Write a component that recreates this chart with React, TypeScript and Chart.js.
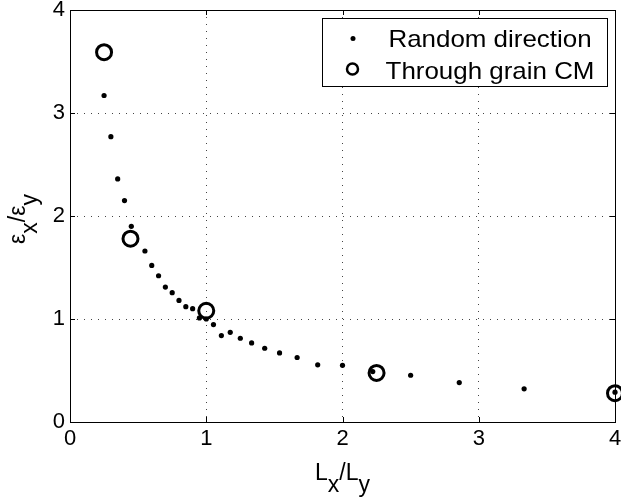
import { useEffect, useRef } from "react";
import { Chart, registerables } from "chart.js";

Chart.register(...registerables);

// ---- data ----
const randomX = [0.25, 0.3, 0.35, 0.4, 0.45, 0.55, 0.6, 0.65, 0.7, 0.75, 0.8, 0.85, 0.9, 0.95, 1.0, 1.053, 1.111, 1.176, 1.25, 1.333, 1.429, 1.538, 1.667, 1.818, 2.0, 2.222, 2.5, 2.857, 3.333, 4.0];
const randomY = [3.17, 2.77, 2.36, 2.15, 1.9, 1.66, 1.52, 1.42, 1.31, 1.256, 1.18, 1.12, 1.1, 1.01, 1.0, 0.946, 0.839, 0.871, 0.813, 0.768, 0.716, 0.671, 0.626, 0.555, 0.55, 0.49, 0.454, 0.383, 0.322, 0.29];
const cmX = [0.25, 0.444, 1.0, 2.25, 4.0];
const cmY = [3.59, 1.78, 1.08, 0.476, 0.28];
const xTicks = [0, 1, 2, 3, 4];
const yTicks = [0, 1, 2, 3, 4];
const seriesLabels = ["Random direction", "Through grain CM"];
const xTitleParts: [string, boolean][] = [["L", false], ["x", true], ["/", false], ["L", false], ["y", true]];
const yTitleParts: [string, boolean][] = [["ε", false], ["x", true], ["/", false], ["ε", false], ["y", true]];

const FONT = '"Liberation Sans", Arial, Helvetica, sans-serif';

function drawParts(ctx: CanvasRenderingContext2D, parts: [string, boolean][], cx: number, baseY: number, size: number, subShift: number) {
  ctx.font = `${size}px ${FONT}`;
  let total = 0;
  for (const [t] of parts) total += ctx.measureText(t).width;
  let x = cx - total / 2;
  ctx.textAlign = "left";
  ctx.textBaseline = "alphabetic";
  for (const [t, sub] of parts) {
    ctx.fillText(t, x, baseY + (sub ? subShift : 0));
    x += ctx.measureText(t).width;
  }
}

const framePlugin = {
  id: "frame",
  beforeDatasetsDraw(chart: any) {
    const { ctx, chartArea: a, scales } = chart;
    ctx.save();
    ctx.strokeStyle = "#000";
    ctx.lineWidth = 1;
    ctx.strokeRect(a.left + 0.5, a.top + 0.5, a.right - a.left, a.bottom - a.top);
    ctx.beginPath();
    for (const v of xTicks) {
      const px = Math.round(scales.x.getPixelForValue(v)) + 0.5;
      ctx.moveTo(px, a.bottom);
      ctx.lineTo(px, a.bottom - 5);
      ctx.moveTo(px, a.top);
      ctx.lineTo(px, a.top + 5);
    }
    for (const v of yTicks) {
      const py = Math.round(scales.y.getPixelForValue(v)) + 0.5;
      ctx.moveTo(a.left, py);
      ctx.lineTo(a.left + 5, py);
      ctx.moveTo(a.right, py);
      ctx.lineTo(a.right - 5, py);
    }
    ctx.stroke();
    ctx.restore();
  },
  afterDraw(chart: any) {
    const { ctx, chartArea: a } = chart;
    ctx.save();
    ctx.fillStyle = "#000";
    // axis titles
    drawParts(ctx, xTitleParts, (a.left + a.right) / 2, 480, 23, 12);
    ctx.save();
    ctx.translate(25, (a.top + a.bottom) / 2 + 3);
    ctx.rotate(-Math.PI / 2);
    drawParts(ctx, yTitleParts, 0, 0, 23, 12);
    ctx.restore();

    // legend box
    const bx = 322.5, by = 18.5, bw = 285, bh = 68;
    ctx.fillStyle = "#fff";
    ctx.fillRect(bx, by, bw, bh);
    ctx.strokeStyle = "#000";
    ctx.lineWidth = 1;
    ctx.strokeRect(bx, by, bw, bh);
    const ds = chart.data.datasets;
    ctx.fillStyle = "#000";
    ctx.beginPath();
    ctx.arc(353, 38.5, 2.5, 0, Math.PI * 2);
    ctx.fill();
    ctx.beginPath();
    ctx.lineWidth = 2.5;
    ctx.arc(352.5, 69, 5.5, 0, Math.PI * 2);
    ctx.stroke();
    ctx.font = `24px ${FONT}`;
    ctx.textAlign = "center";
    ctx.textBaseline = "alphabetic";
    ctx.save();
    ctx.translate(490, 0);
    ctx.scale(1.08, 1);
    ctx.fillText(ds[0].label, 0, 46.5);
    ctx.fillText(ds[1].label, 0, 79);
    ctx.restore();
    ctx.restore();
  },
};

export default function App() {
  const ref = useRef<HTMLCanvasElement>(null);
  useEffect(() => {
    if (!ref.current) return;
    const chart = new Chart(ref.current, {
      type: "scatter",
      data: {
        datasets: [
          {
            label: seriesLabels[0],
            data: randomX.map((x, i) => ({ x, y: randomY[i] })),
            pointRadius: 2.6,
            pointBackgroundColor: "#000",
            pointBorderWidth: 0,
            pointBorderColor: "#000",
            clip: false as any,
          },
          {
            label: seriesLabels[1],
            data: cmX.map((x, i) => ({ x, y: cmY[i] })),
            pointRadius: 7.5,
            pointBackgroundColor: "rgba(0,0,0,0)",
            pointBorderColor: "#000",
            pointBorderWidth: 3,
            clip: false as any,
          },
        ],
      },
      options: {
        responsive: false,
        animation: false,
        devicePixelRatio: 1,
        layout: { autoPadding: false, padding: { top: 10, right: 6, left: 0, bottom: 0 } },
        plugins: { legend: { display: false }, tooltip: { enabled: false } },
        scales: {
          x: {
            type: "linear",
            min: 0,
            max: 4,
            afterFit: (s: any) => { s.height = 79; s.paddingLeft = 0; s.paddingRight = 0; },
            afterBuildTicks: (s: any) => { s.ticks = xTicks.map((v) => ({ value: v })); },
            ticks: { color: "#000", font: { family: FONT, size: 22 }, padding: 4, maxRotation: 0 },
            grid: {
              drawTicks: false,
              color: (c: any) => (c.tick && (c.tick.value === 0 || c.tick.value === 4) ? "rgba(0,0,0,0)" : "#444"),
              lineWidth: 1,
            },
            border: { display: false, dash: [1, 6] },
          },
          y: {
            type: "linear",
            min: 0,
            max: 4,
            afterFit: (s: any) => { s.width = 70; s.paddingTop = 0; s.paddingBottom = 0; },
            afterBuildTicks: (s: any) => { s.ticks = yTicks.map((v) => ({ value: v })); },
            ticks: { color: "#000", font: { family: FONT, size: 22 }, padding: 5 },
            grid: {
              drawTicks: false,
              color: (c: any) => (c.tick && (c.tick.value === 0 || c.tick.value === 4) ? "rgba(0,0,0,0)" : "#444"),
              lineWidth: 1,
            },
            border: { display: false, dash: [1, 6] },
          },
        },
      },
      plugins: [framePlugin],
    });
    return () => chart.destroy();
  }, []);
  return (
    <div style={{ position: "absolute", left: 0, top: 0, width: 621, height: 501, background: "#fff" }}>
      <canvas ref={ref} width={621} height={501} />
    </div>
  );
}
